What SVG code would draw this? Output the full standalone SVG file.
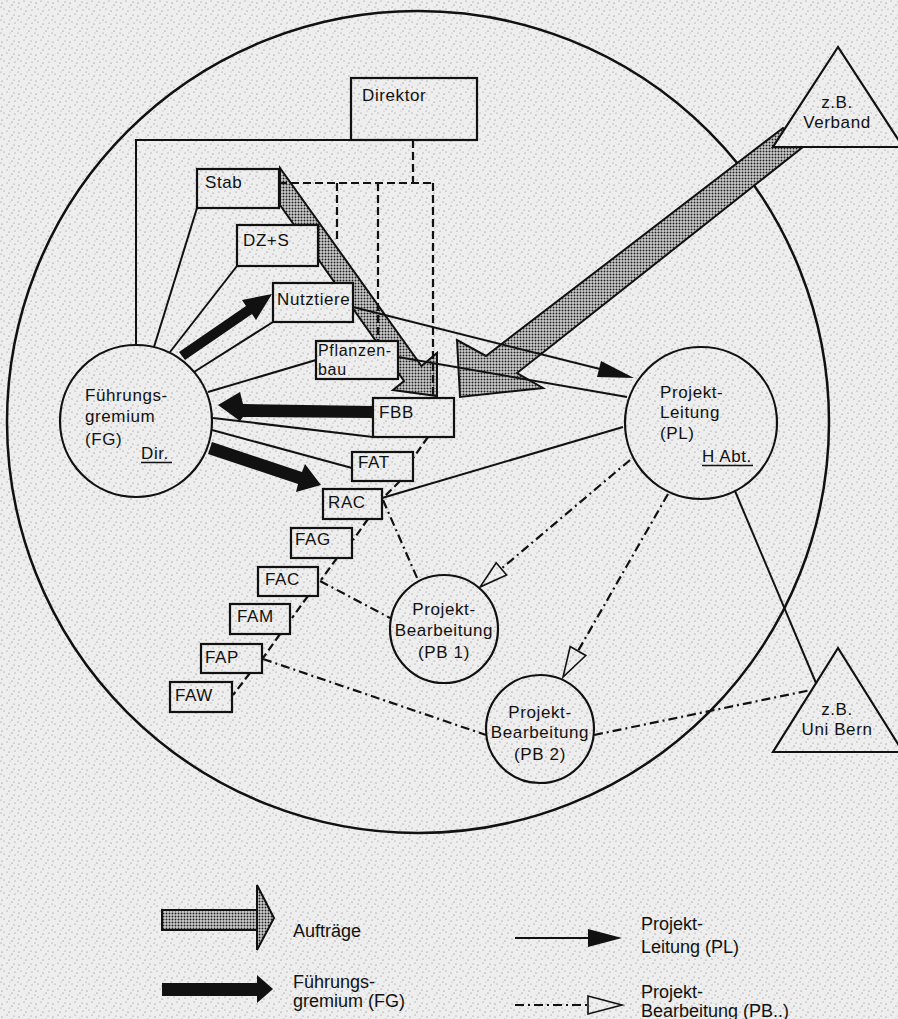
<svg xmlns="http://www.w3.org/2000/svg" width="898" height="1019" viewBox="0 0 898 1019">
<style>
.t{font-family:"Liberation Sans",Arial,sans-serif;font-size:17px;letter-spacing:0.6px;fill:#111}
.ts{font-family:"Liberation Sans",Arial,sans-serif;font-size:16px;letter-spacing:0.7px;fill:#111}
.lg{font-family:"Liberation Sans",Arial,sans-serif;font-size:18px;fill:#111}
.box{fill:url(#bg);stroke:#111;stroke-width:2.2}
.ln{stroke:#111;stroke-width:2;fill:none}
.dash{stroke:#111;stroke-width:2.2;fill:none;stroke-dasharray:8 4}
.dd{stroke:#111;stroke-width:2.2;fill:none;stroke-dasharray:9 4 2 4}
.hat{fill:url(#hatch);stroke:#111;stroke-width:2}
.blk{fill:#111}
.open{fill:url(#bg);stroke:#111;stroke-width:1.6}
</style>
<defs>
<pattern id="bg" width="17" height="13" patternUnits="userSpaceOnUse">
<rect width="17" height="13" fill="#eeeeee"/>
<g fill="#707070">
<circle cx="2" cy="3" r="0.6"/><circle cx="7" cy="1" r="0.5"/><circle cx="12" cy="5" r="0.6"/><circle cx="15" cy="10" r="0.5"/>
<circle cx="4" cy="9" r="0.5"/><circle cx="9" cy="11" r="0.6"/><circle cx="14" cy="2" r="0.5"/><circle cx="1" cy="7" r="0.5"/><circle cx="10" cy="7" r="0.4"/>
</g>
</pattern>
<pattern id="hatch" width="3" height="3" patternUnits="userSpaceOnUse">
<rect width="3" height="3" fill="#cfcfcf"/><circle cx="1.5" cy="1.5" r="1" fill="#222"/>
</pattern>
</defs>

<rect width="898" height="1019" fill="url(#bg)"/>
<circle id="system" cx="418" cy="422" r="411" fill="none" stroke="#111" stroke-width="2.5"/>

<g id="auftraege">
<polygon class="hat" points="280,168 421.5,366 437,353 437,396 393,390 404,381 280,205"/>
<polygon class="hat" points="783,128 803,147 517,373 543,388 460,397 457,340 486,356"/>
</g>

<g id="connectors">
<polyline class="ln" points="351,140 136,140 136,345"/>
<line class="dash" x1="413" y1="140" x2="413" y2="183"/>
<line class="dash" x1="279" y1="183" x2="433" y2="183"/>
<line class="dash" x1="337" y1="183" x2="337" y2="243"/>
<line class="dash" x1="378" y1="183" x2="378" y2="341"/>
<line class="dash" x1="433" y1="183" x2="433" y2="398"/>
<line class="ln" x1="197" y1="208" x2="154" y2="347"/>
<line class="ln" x1="237" y1="266" x2="170" y2="352"/>
<line class="ln" x1="273" y1="322" x2="194" y2="372"/>
<line class="ln" x1="316" y1="360" x2="208" y2="392"/>
<line class="ln" x1="373" y1="437" x2="213" y2="418"/>
<line class="ln" x1="352" y1="468" x2="212" y2="430"/>
<line class="ln" x1="353" y1="307" x2="600" y2="369"/>
<polygon class="blk" points="597,377 601,361 634,378"/>
<line class="ln" x1="398" y1="357" x2="627" y2="397"/>
<line class="ln" x1="382" y1="498" x2="623" y2="427"/>
<line class="ln" x1="735" y1="491" x2="816" y2="683"/>
<line class="dash" x1="428" y1="437" x2="413" y2="458"/>
<line class="dash" x1="400" y1="481" x2="383" y2="498"/>
<line class="dash" x1="368" y1="519" x2="353" y2="540"/>
<line class="dash" x1="337" y1="558" x2="321" y2="580"/>
<line class="dash" x1="308" y1="596" x2="292" y2="618"/>
<line class="dash" x1="280" y1="634" x2="263" y2="658"/>
<line class="dash" x1="250" y1="673" x2="233" y2="695"/>
<line class="dd" x1="383" y1="500" x2="418" y2="580"/>
<line class="dd" x1="320" y1="581" x2="390" y2="618"/>
<line class="dd" x1="263" y1="659" x2="486" y2="735"/>
<line class="dd" x1="594" y1="735" x2="811" y2="690"/>
<line class="dd" x1="630" y1="460" x2="501" y2="569"/>
<polygon class="open" points="506.6,575 496.2,562.8 480,587"/>
<line class="dd" x1="668" y1="494" x2="578" y2="651"/>
<polygon class="open" points="585.8,655.5 570.2,646.5 563,677"/>
<polygon class="blk" points="179,352 246,306 242,300 272,294 256,320 252,314 185,360"/>
<polygon class="blk" points="373,406 243,404 240,392 218,405 240,421 243,417 373,418"/>
<polygon class="blk" points="212,442 302,472 305,464 321,485 296,492 298,484 208,454"/>
</g>

<g id="direktor"><rect class="box" x="351" y="78" width="126" height="62"/><text class="t" x="362" y="101">Direktor</text></g>
<g id="stab"><rect class="box" x="197" y="169" width="82" height="39"/><text class="t" x="205" y="188">Stab</text></g>
<g id="dzs"><rect class="box" x="237" y="225" width="81" height="41"/><text class="t" x="243" y="246">DZ+S</text></g>
<g id="nutztiere"><rect class="box" x="273" y="283" width="80" height="39"/><text class="t" x="277" y="305">Nutztiere</text></g>
<g id="pflanzenbau"><rect class="box" x="316" y="341" width="82" height="38"/><text class="ts" x="318" y="356">Pflanzen-</text><text class="ts" x="318" y="375">bau</text></g>
<g id="fbb"><rect class="box" x="373" y="398" width="81" height="39"/><text class="t" x="379" y="418">FBB</text></g>
<g id="fat"><rect class="box" x="352" y="452" width="61" height="29"/><text class="t" x="358" y="468">FAT</text></g>
<g id="rac"><rect class="box" x="323" y="489" width="59" height="30"/><text class="t" x="328" y="508">RAC</text></g>
<g id="fag"><rect class="box" x="291" y="528" width="61" height="30"/><text class="t" x="295" y="545">FAG</text></g>
<g id="fac"><rect class="box" x="258" y="567" width="60" height="29"/><text class="t" x="265" y="585">FAC</text></g>
<g id="fam"><rect class="box" x="230" y="604" width="60" height="30"/><text class="t" x="237" y="622">FAM</text></g>
<g id="fap"><rect class="box" x="201" y="644" width="61" height="29"/><text class="t" x="205" y="663">FAP</text></g>
<g id="faw"><rect class="box" x="170" y="682" width="62" height="30"/><text class="t" x="175" y="701">FAW</text></g>

<g id="fg"><circle class="box" cx="136" cy="421" r="76"/>
<text class="t" x="85" y="401">Führungs-</text><text class="t" x="85" y="422">gremium</text><text class="t" x="85" y="445">(FG)</text>
<text class="t" x="141" y="459">Dir.</text><line x1="141" y1="462.5" x2="172" y2="462.5" stroke="#111" stroke-width="1.5"/></g>

<g id="pl"><circle class="box" cx="701" cy="423" r="76"/>
<text class="t" x="660" y="398">Projekt-</text><text class="t" x="660" y="418">Leitung</text><text class="t" x="660" y="439">(PL)</text>
<text class="t" x="702" y="462">H Abt.</text><line x1="702" y1="465.5" x2="753" y2="465.5" stroke="#111" stroke-width="1.5"/></g>

<g id="pb1"><circle class="box" cx="444" cy="629" r="54"/>
<g text-anchor="middle"><text class="t" x="444" y="615">Projekt-</text><text class="t" x="444" y="636">Bearbeitung</text><text class="t" x="444" y="658">(PB 1)</text></g></g>

<g id="pb2"><circle class="box" cx="540" cy="729" r="54"/>
<g text-anchor="middle"><text class="t" x="540" y="718">Projekt-</text><text class="t" x="540" y="738">Bearbeitung</text><text class="t" x="540" y="760">(PB 2)</text></g></g>

<g id="verband"><polygon class="box" points="838,47 773,147 903,147"/>
<g text-anchor="middle"><text class="t" x="837" y="108">z.B.</text><text class="t" x="837" y="128">Verband</text></g></g>

<g id="unibern"><polygon class="box" points="838,648 773,752 903,752"/>
<g text-anchor="middle"><text class="t" x="837" y="715">z.B.</text><text class="t" x="837" y="735">Uni Bern</text></g></g>

<g id="legend">
<rect class="hat" x="162" y="910" width="95" height="20"/>
<polygon class="hat" points="257,885 257,950 274,918"/>
<text class="lg" x="293" y="937">Aufträge</text>
<rect class="blk" x="162" y="983" width="96" height="13"/>
<polygon class="blk" points="257,975 257,1003 273,989"/>
<text class="lg" x="293" y="988">Führungs-</text>
<text class="lg" x="293" y="1007">gremium (FG)</text>
<line class="ln" x1="515" y1="938" x2="590" y2="938"/>
<polygon class="blk" points="588,929 588,947 622,938"/>
<text class="lg" x="641" y="930">Projekt-</text>
<text class="lg" x="641" y="953">Leitung (PL)</text>
<line class="dd" x1="515" y1="1005" x2="588" y2="1005"/>
<polygon class="open" points="588,996 588,1014 622,1005"/>
<text class="lg" x="641" y="998">Projekt-</text>
<text class="lg" x="641" y="1017">Bearbeitung (PB..)</text>
</g>
</svg>
